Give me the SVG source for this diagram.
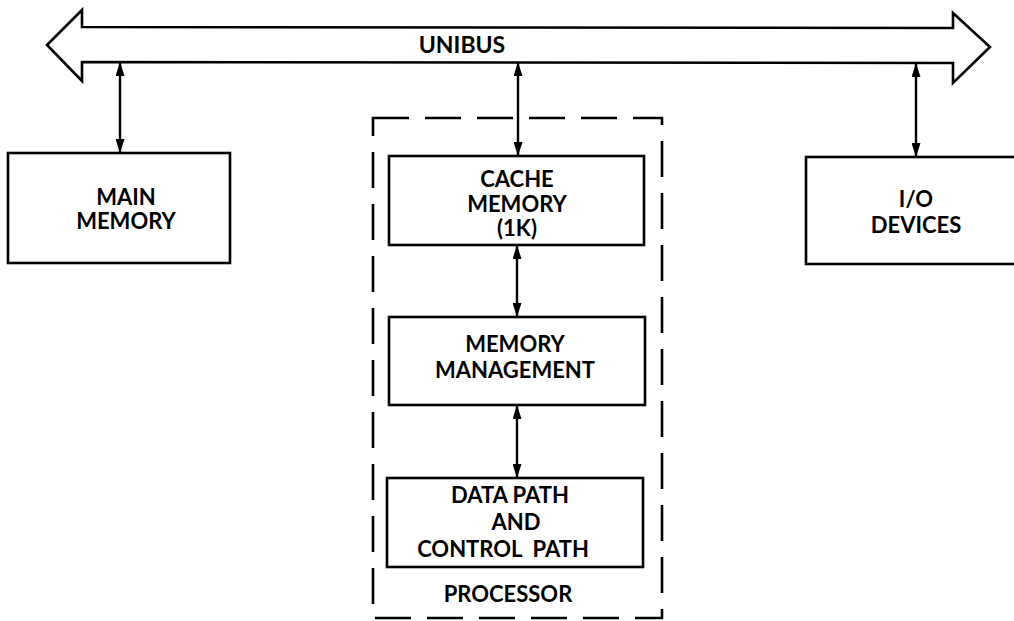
<svg xmlns="http://www.w3.org/2000/svg" width="1014" height="621" viewBox="0 0 1014 621">
<style>
.box{fill:#fff;stroke:#000;stroke-width:2.6}
.dash{fill:none;stroke:#000;stroke-width:2.6;stroke-dasharray:36 16}
.conn{stroke:#000;stroke-width:2.4;fill:none}
text{font-family:Lato,"Liberation Sans","DejaVu Sans",sans-serif;font-weight:700;font-size:22px;fill:#000;text-anchor:middle}
</style>
<defs>
<marker id="ah" viewBox="0 0 14 9" refX="13" refY="4.5" markerWidth="14" markerHeight="9" markerUnits="userSpaceOnUse" orient="auto-start-reverse">
<path d="M0,0 L14,4.5 L0,9 z" fill="#000"/>
</marker>
</defs>
<rect width="1014" height="621" fill="#fff"/>
<g id="unibus">
<polygon class="box" points="47,45 82,10 82,27 953,28 953,13 990,47 953,83 953,63 82,62 82,81"/>
<text x="462" y="53" style="font-size:23px">UNIBUS</text>
</g>
<g id="processor">
<rect class="dash" x="373" y="118" width="289" height="500"/>
<text x="508" y="602">PROCESSOR</text>
</g>
<g id="main-memory">
<rect class="box" x="8" y="153" width="222" height="110"/>
<text x="126" y="205">MAIN</text>
<text x="126" y="229">MEMORY</text>
</g>
<g id="io-devices">
<rect class="box" x="806" y="157" width="220" height="107"/>
<text x="916" y="207">I/O</text>
<text x="916" y="233">DEVICES</text>
</g>
<g id="cache-memory">
<rect class="box" x="389" y="156" width="255" height="89"/>
<text x="517" y="187">CACHE</text>
<text x="517" y="212">MEMORY</text>
<text x="517" y="236">(1K)</text>
</g>
<g id="memory-management">
<rect class="box" x="389" y="317" width="256" height="88"/>
<text x="515" y="352">MEMORY</text>
<text x="515" y="378">MANAGEMENT</text>
</g>
<g id="data-path">
<rect class="box" x="387" y="478" width="256" height="89"/>
<text x="510" y="503">DATA PATH</text>
<text x="516" y="530">AND</text>
<text x="503" y="557" xml:space="preserve">CONTROL  PATH</text>
</g>
<g id="connectors">
<line class="conn" x1="120" y1="63" x2="120" y2="152" marker-start="url(#ah)" marker-end="url(#ah)"/>
<line class="conn" x1="518" y1="63" x2="518" y2="155" marker-start="url(#ah)" marker-end="url(#ah)"/>
<line class="conn" x1="916" y1="64" x2="916" y2="156" marker-start="url(#ah)" marker-end="url(#ah)"/>
<line class="conn" x1="517" y1="246" x2="517" y2="316" marker-start="url(#ah)" marker-end="url(#ah)"/>
<line class="conn" x1="517" y1="406" x2="517" y2="477" marker-start="url(#ah)" marker-end="url(#ah)"/>
</g>
</svg>
